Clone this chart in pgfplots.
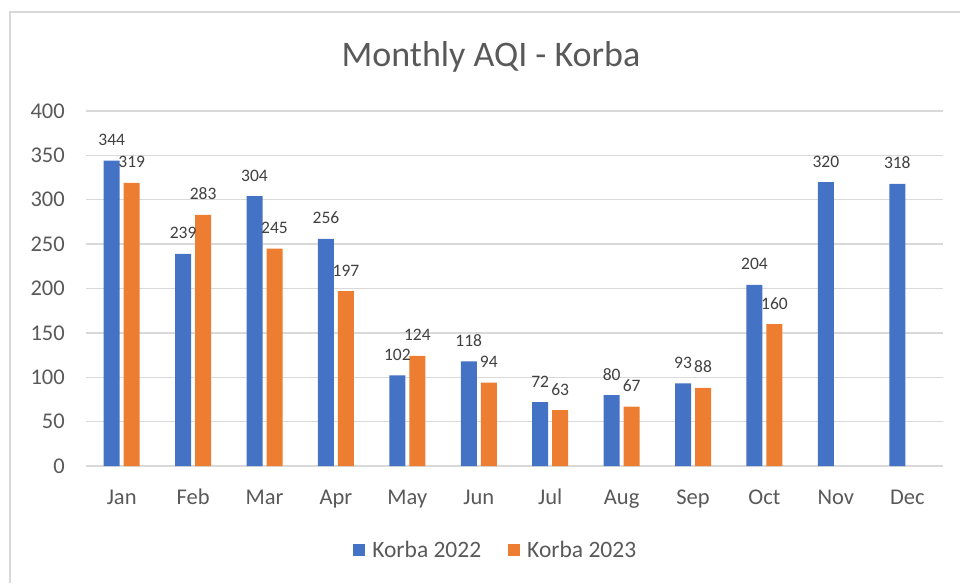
\documentclass[border=0pt]{standalone}
\usepackage{fontspec}
\setmainfont{Carlito}
\usepackage{pgfplots}
\pgfplotsset{compat=1.18}
\definecolor{korbablue}{HTML}{4472C4}
\definecolor{korbaorange}{HTML}{ED7D31}
\definecolor{gridgray}{HTML}{D9D9D9}
\definecolor{labgray}{HTML}{595959}
\definecolor{valgray}{HTML}{404040}

\begin{document}
\begin{tikzpicture}[x=1pt,y=1pt]
\useasboundingbox (0,0) rectangle (960,-583);
% chart frame (only top and left edges are in view)
\draw[gridgray, line width=2pt] (10,-583) -- (10,-12) -- (960,-12);
\node[text=labgray, font=\fontsize{36}{40}\selectfont] at (491,-57) {Monthly AQI - Korba};
\begin{axis}[
  at={(86pt,-466pt)}, anchor=south west,
  scale only axis,
  width=857pt, height=355pt,
  xmin=-0.5, xmax=11.5,
  ymin=0, ymax=400,
  xtick={0,...,11},
  xticklabels={Jan,Feb,Mar,Apr,May,Jun,Jul,Aug,Sep,Oct,Nov,Dec},
  ytick={0,50,...,400},
  major tick length=0pt,
  axis line style={draw=none},
  ymajorgrids=true,
  grid style={gridgray, line width=1.4pt},
  /pgf/number format/assume math mode=true,
  tick label style={text=labgray, font=\fontsize{22.5}{26}\selectfont},
  yticklabel style={anchor=base east, inner sep=0pt, xshift=-21pt, yshift=-7.2pt},
  xticklabel style={anchor=base, inner sep=0pt, yshift=-38pt},
  nodes near coords,
  every node near coord/.append style={anchor=base, inner sep=0pt, yshift=15pt,
    text=valgray, font=\fontsize{17.5}{20}\selectfont},
  legend columns=2,
  legend image code/.code={\fill[#1, draw=none] (0pt,-6pt) rectangle (12pt,6pt);},
  legend style={at={(0.481,-0.2366)}, anchor=center, draw=none, fill=none,
    font=\fontsize{23.5}{26}\selectfont, text=labgray,
    nodes={inner xsep=7pt, inner ysep=0pt},
    /tikz/every even column/.append style={column sep=20pt}},
]
\addplot[ybar, bar width=16pt, bar shift=-10pt, fill=korbablue, draw=none,
  nodes near coords style={xshift=-10pt}] coordinates {
(0,344) (1,239) (2,304) (3,256) (4,102) (5,118) (6,72) (7,80) (8,93) (9,204) (10,320) (11,318)
};
\addlegendentry{Korba 2022}
\addplot[ybar, bar width=16pt, bar shift=10pt, fill=korbaorange, draw=none,
  nodes near coords style={xshift=10pt}] coordinates {
(0,319) (1,283) (2,245) (3,197) (4,124) (5,94) (6,63) (7,67) (8,88) (9,160)
};
\addlegendentry{Korba 2023}
\end{axis}
\end{tikzpicture}
\end{document}
